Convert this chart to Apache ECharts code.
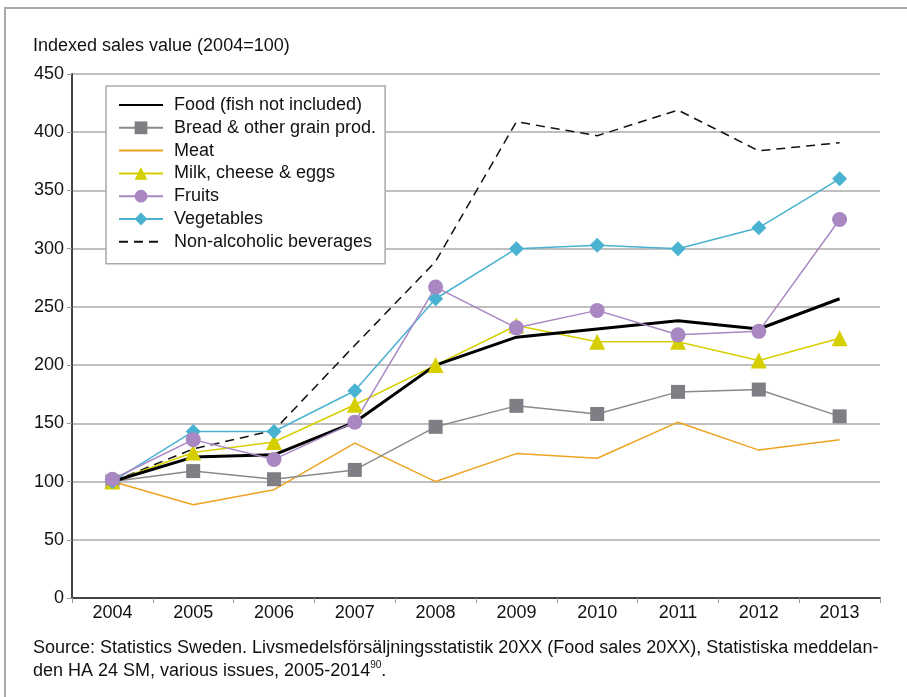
<!DOCTYPE html>
<html>
<head>
<meta charset="utf-8">
<script src="https://cdn.jsdelivr.net/npm/echarts@6/dist/echarts.min.js"></script>
<style>
html,body{margin:0;padding:0;background:#fff;}
#chart{width:907px;height:697px;}
</style>
</head>
<body>
<div id="chart"></div>
<script>
var years = ['2004','2005','2006','2007','2008','2009','2010','2011','2012','2013'];
var food       = [100, 121, 123, 151, 200, 224, 231, 238, 231, 257];
var bread      = [100, 109, 102, 110, 147, 165, 158, 177, 179, 156];
var meat       = [100, 80, 93, 133, 100, 124, 120, 151, 127, 136];
var milk       = [100, 125, 134, 166, 200, 234, 220, 220, 204, 223];
var fruits     = [102, 136, 119, 151, 267, 232, 247, 226, 229, 325];
var vegetables = [100, 143, 143, 178, 257, 300, 303, 300, 318, 360];
var beverages  = [100, 128, 144, 217, 289, 409, 397, 419, 384, 391];
var yTitle = 'Indexed sales value (2004=100)';
var sourceLines = ['Source: Statistics Sweden. Livsmedelsförsäljningsstatistik 20XX (Food sales 20XX), Statistiska meddelan-',
                   'den HA 24 SM, various issues, 2005-2014{sup|90}.'];

var FONT = '"Liberation Sans", Arial, sans-serif';
var FS = 18;
var chart = echarts.init(document.getElementById('chart'), null, {renderer: 'canvas'});
var thin = 1.5;
function mk(name, data, color, symbol, size, extra) {
  var s = {
    name: name, type: 'line', data: data,
    symbol: symbol, symbolSize: size, showSymbol: symbol !== 'none',
    lineStyle: {color: color, width: thin},
    itemStyle: {color: color},
    emphasis: {disabled: true},
    animation: false
  };
  if (extra) { for (var k in extra) s[k] = extra[k]; }
  return s;
}
var hideSym = {opacity: 0};
var option = {
  backgroundColor: '#fff',
  animation: false,
  textStyle: {fontFamily: FONT},
  title: {
    text: yTitle, left: 33, top: 37, padding: 0,
    textStyle: {fontFamily: FONT, fontSize: FS, fontWeight: 'normal', color: '#111'}
  },
  legend: {
    orient: 'vertical', left: 106, top: 86,
    padding: [10, 9, 13, 12],
    itemWidth: 44, itemHeight: 16, itemGap: 4.8,
    borderColor: '#aaa', borderWidth: 1.5, backgroundColor: '#fff',
    textStyle: {fontFamily: FONT, fontSize: FS, color: '#111', padding: [0, 0, 0, 6]},
    data: [
      {name: 'Food (fish not included)', itemStyle: hideSym},
      'Bread & other grain prod.',
      {name: 'Meat', itemStyle: hideSym},
      'Milk, cheese & eggs', 'Fruits', 'Vegetables',
      {name: 'Non-alcoholic beverages', itemStyle: hideSym}
    ]
  },
  grid: {left: 72, right: 27, top: 74, bottom: 99, containLabel: false},
  xAxis: {
    type: 'category', data: years, boundaryGap: true,
    axisLine: {lineStyle: {color: '#444', width: 2}},
    axisTick: {show: true, length: 5, lineStyle: {color: '#999'}},
    axisLabel: {fontFamily: FONT, fontSize: FS, color: '#111', margin: 6}
  },
  yAxis: {
    type: 'value', min: 0, max: 450, interval: 50,
    axisLine: {show: true, lineStyle: {color: '#444', width: 2}},
    axisTick: {show: true, length: 5, lineStyle: {color: '#999'}},
    axisLabel: {fontFamily: FONT, fontSize: FS, color: '#111', margin: 8},
    splitLine: {show: true, lineStyle: {color: '#aaa', width: 1.5}}
  },
  graphic: [
    {type: 'polyline', shape: {points: [[5, 697], [5, 8], [907, 8]]}, style: {stroke: '#aaa', lineWidth: 2, fill: null}, silent: true},
    {type: 'text', left: 33, top: 637, silent: true,
     style: {text: sourceLines.join('\n'), fontFamily: FONT, fontSize: FS, lineHeight: 23, fill: '#111',
             rich: {sup: {fontSize: 10, verticalAlign: 'top', fontFamily: FONT, fill: '#111', padding: [0,0,10,0]}}}}
  ],
  series: [
    mk('Meat', meat, '#eea321', 'none', 0),
    mk('Bread & other grain prod.', bread, '#7e7e84', 'rect', 14, {lineStyle: {color: '#8a8a8a', width: thin}}),
    mk('Non-alcoholic beverages', beverages, '#111', 'none', 0, {lineStyle: {color: '#111', width: 1.5, type: [9, 6]}}),
    mk('Milk, cheese & eggs', milk, '#d6cf00', 'triangle', 16),
    mk('Food (fish not included)', food, '#000', 'none', 0, {lineStyle: {color: '#000', width: 3}}),
    mk('Vegetables', vegetables, '#49b2d0', 'diamond', 15),
    mk('Fruits', fruits, '#a887c2', 'circle', 15)
  ]
};
chart.setOption(option);
</script>
</body>
</html>
